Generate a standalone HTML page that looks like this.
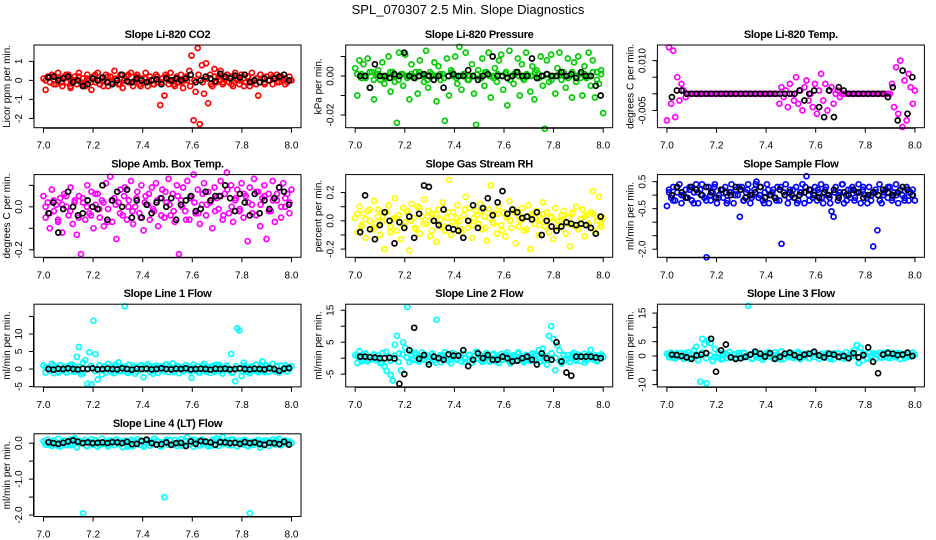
<!DOCTYPE html>
<html><head><meta charset="utf-8"><style>
html,body{margin:0;padding:0;background:#fff;}
svg{display:block;font-family:"Liberation Sans",sans-serif;}
</style></head><body>
<svg id="fig" width="936" height="540" viewBox="0 0 936 540">
<text x="468" y="14" text-anchor="middle" font-size="13">SPL_070307  2.5 Min. Slope Diagnostics</text>
</svg>
<script>
const xTicks=[7.0,7.2,7.4,7.6,7.8,8.0];
const xTickLabels=["7.0","7.2","7.4","7.6","7.8","8.0"];
const titles=["Slope Li-820 CO2","Slope Li-820 Pressure","Slope Li-820 Temp.","Slope Amb. Box Temp.","Slope Gas Stream RH","Slope Sample Flow","Slope Line 1 Flow","Slope Line 2 Flow","Slope Line 3 Flow","Slope Line 4 (LT) Flow"];
const yTitles=["Licor ppm per min.","kPa per min.","degrees C per min.","degrees C per min.","percent per min.","ml/min per min.","ml/min per min.","ml/min per min.","ml/min per min.","ml/min per min."];
const seriesColors=["#ff0000","#00cc00","#ff00ff","#ff00ff","#ffff00","#0000ff","#00ffff","#00ffff","#00ffff","#00ffff"];
const yRanges=[[-2.49,1.86],[-0.0265,0.0159],[-0.0102,0.0147],[-0.235,0.15],[-0.258,0.327],[-2.30,0.76],[-5.1,18.5],[-9.0,16.9],[-10.8,18.1],[-2.04,0.26]];
const yTickVals=[[-2,-1,0,1],[-0.02,-0.01,0,0.01],[-0.005,0,0.005,0.01],[-0.2,-0.1,0,0.1],[-0.2,-0.1,0,0.1,0.2],[-2,-1.5,-1,-0.5,0,0.5],[-5,0,5,10,15],[-5,0,5,10,15],[-10,-5,0,5,10,15],[-2,-1.5,-1,-0.5,0]];
const yTickLabels=[["-2","-1","0","1"],["-0.02","","0.00",""],["-0.005","","","0.010"],["-0.2","","0.0",""],["-0.2","","0.0","","0.2"],["-2.0","","","-0.5","","0.5"],["-5","0","5","10",""],["-5","","5","","15"],["-10","","0","5","","15"],["-2.0","","-1.0","","0.0"]];

const co2=[0.1,-0.5,0.2,-0.1,0.3,0.0,-0.2,0.4,0.1,-0.3,0.2,-0.1,0.3,-0.4,0.0,0.2,-0.2,0.4,-0.1,0.1,-0.3,0.3,0.0,-0.5,0.2,-0.1,0.4,-0.2,0.1,0.0,0.3,-0.3,0.2,-0.1,0.5,0.0,-0.2,0.3,-0.4,0.1,0.2,-0.1,0.4,-0.3,0.0,0.3,-0.2,0.1,-0.1,0.4,-0.3,0.2,0.0,-0.2,0.3,-0.1,-1.3,0.1,-0.8,0.2,-0.2,0.4,0.0,-0.3,0.2,-0.1,0.3,-0.4,0.1,0.0,0.5,1.3,-2.1,-0.6,1.7,-2.3,0.8,-0.7,0.9,-1.2,0.3,-0.3,0.6,-0.1,0.2,0.5,-0.2,0.1,0.3,-0.1,0.2,-0.3,0.4,0.0,-0.2,0.3,0.1,-0.1,0.2,-0.3,0.4,0.0,-0.2,-0.8,0.3,0.1,-0.1,0.2,0.0,0.3,-0.2,0.1,0.3,-0.1,0.2,0.0,0.1,-0.1,0.2,0.0];
const co2Band=[0.0,0.2,-0.2,0.1,-0.1,0.3,-0.3,0.0,0.2,-0.2,0.1,-0.1,0.3,0.0,-0.3,0.2,-0.1,0.1,-0.2,0.0,0.3,-0.1,0.2,-0.3,0.1,0.0,-0.2,0.2,-0.1,0.3,0.0,-0.2,0.1,-0.1,0.2,-0.3,0.0,0.3,-0.1,0.1,-0.2,0.2,0.0,-0.1,0.3,-0.2,0.1,0.0,-0.3,0.2,-0.1,0.1,0.3,-0.2,0.0,0.2,-0.1,0.1,-0.2,0.0];
const co2Ref=[0.15,0.2,0.0,0.1,0.2,-0.1,0.0,-0.3,-0.2,0.1,0.0,0.15,-0.1,-0.2,0.0,0.3,-0.05,-0.1,0.1,0.0,-0.1,0.0,0.05,-0.2,0.1,0.0,0.1,0.0,0.1,0.3,-0.1,0.0,0.2,0.1,-0.05,0.35,0.2,0.1,0.25,0.15,0.3,-0.1,0.0,-0.1,0.1,0.0,0.1,0.2,0.3,0.0];
const pressure=[0.004,-0.010,0.008,0.001,0.006,-0.001,0.009,-0.006,0.002,-0.012,0.001,0.003,-0.002,0.007,-0.004,0.000,0.010,-0.008,0.002,-0.003,-0.024,0.012,0.001,-0.005,0.011,-0.001,-0.012,0.006,0.000,0.002,-0.009,0.008,0.001,-0.003,0.013,-0.006,0.002,0.000,0.007,-0.013,0.005,-0.002,0.001,-0.023,0.009,-0.010,0.003,0.000,0.010,-0.004,0.015,-0.007,0.001,0.012,-0.002,0.000,0.006,-0.009,-0.025,0.003,-0.001,0.009,-0.005,0.002,0.012,-0.011,0.000,0.004,-0.003,0.008,0.011,-0.007,0.001,-0.015,0.013,0.000,-0.004,0.002,0.009,-0.010,0.006,-0.002,0.012,0.000,-0.008,0.005,-0.012,0.003,0.001,0.010,-0.005,-0.027,0.008,-0.003,0.011,0.000,-0.009,0.004,0.012,-0.002,0.002,-0.006,0.009,0.000,-0.011,0.007,-0.003,0.010,0.001,-0.010,0.005,-0.001,0.012,-0.005,0.008,-0.011,0.002,-0.004,0.003,-0.019];
const pressureBand=[0.001,-0.001,0.000,0.002,-0.002,0.001,0.000,-0.001,0.002,0.000,-0.002,0.001,0.000,0.001,-0.001,0.002,0.000,-0.002,0.001,0.000,0.001,-0.001,0.000,0.002,-0.001,0.000,0.001,-0.002,0.000,0.001,-0.001,0.002,0.000,-0.001,0.001,0.000,0.002,-0.002,0.001,0.000,-0.001,0.001,0.000,0.002,-0.001,0.000,0.001,-0.002,0.000,0.001,0.000,-0.001,0.002,0.000,-0.001,0.001,0.000,0.002,-0.002,0.001];
const pressureRef=[0.000,0.000,-0.006,0.006,0.000,0.000,-0.001,0.001,0.000,0.012,0.000,-0.001,0.000,0.001,0.000,-0.002,0.000,-0.006,0.000,0.001,0.000,0.000,0.003,0.000,-0.002,0.000,0.001,0.010,0.000,0.000,-0.001,0.000,0.002,0.000,0.000,0.009,-0.001,0.000,0.001,0.000,0.000,0.002,0.000,0.001,-0.001,0.002,0.000,0.000,-0.005,-0.010];
const liTemp=[-0.008,0.014,-0.003,0.013,-0.007,0.005,-0.002,0.003,0.001,-0.001,0,0,0,0,0,0,0,0,0,0,0,0,0,0,0,0,0,0,0,0,0,0,0,0,0,0,0,0,0,0,0,0,0,0,0,0,0,0,0,0,0,0,0,0,-0.003,0.002,-0.001,0.001,-0.004,0.003,0.000,-0.002,0.005,-0.003,0.001,-0.005,0.002,0.004,-0.002,0.000,-0.004,0.003,-0.006,0.001,0.006,-0.002,0.003,-0.005,0.001,0.002,-0.003,0.000,0.001,-0.001,0,0,0,0,0,0,0,0,0,0,0,0,0,0,0,0,0,0,0,0,0,0,0,0,0.003,-0.004,0.008,-0.006,0.010,-0.010,0.004,-0.008,0.006,0.002,-0.003,0.001];
const liTempRef=[-0.001,0.001,0.001,0,0,0,0,0,0,0,0,0,0,0,0,0,0,0,0,0,0,0,0,0,0,0,0.001,-0.002,0,0.001,-0.004,-0.007,0.001,-0.007,0.002,0.001,0,0,0,0,0,0,0,0,-0.001,0.002,-0.008,0.007,-0.006,0.005];
const ambTemp=[0.05,-0.05,0.02,-0.10,0.08,-0.02,0.01,-0.07,0.04,-0.12,0.06,0.00,-0.04,0.09,-0.08,0.03,-0.13,0.05,-0.22,0.02,-0.06,0.10,-0.03,0.07,-0.10,0.01,0.06,-0.05,0.03,-0.09,0.11,-0.01,0.14,-0.07,0.04,-0.15,0.02,0.08,-0.04,0.09,-0.06,0.03,0.12,-0.08,0.00,0.07,-0.03,0.10,-0.11,0.05,0.01,-0.06,0.09,-0.02,0.11,-0.09,0.04,0.08,-0.05,0.02,0.13,-0.04,0.06,-0.07,0.10,-0.22,0.03,0.09,-0.02,0.12,-0.06,0.05,0.15,-0.03,0.08,-0.08,0.01,0.11,-0.04,0.07,0.02,-0.10,0.09,0.04,-0.01,0.12,-0.06,0.06,0.16,-0.03,0.10,-0.07,0.03,0.08,-0.02,0.11,-0.05,0.05,-0.16,0.09,0.01,0.13,-0.04,0.07,-0.09,0.04,0.10,-0.15,0.06,-0.02,0.12,-0.07,0.03,0.09,-0.05,0.11,0.00,0.06,-0.03,0.08];
const ambTempBand=[0.00,-0.03,0.03,-0.06,0.01,0.05,-0.02,0.02,-0.05,0.04,0.00,-0.04,0.06,-0.01,0.02,-0.07,0.03,0.01,-0.03,0.05,0.00,-0.02,0.04,-0.05,0.02,0.06,-0.01,0.03,-0.04,0.07,0.01,-0.02,0.05,0.00,-0.06,0.04,0.02,-0.03,0.06,0.01,0.03,-0.02,0.05,-0.04,0.08,0.00,0.04,-0.01,0.06,0.02,-0.03,0.07,0.01,0.05,-0.02,0.03,0.06,0.00,0.04,0.02];
const ambTempRef=[-0.03,0.02,-0.12,-0.01,0.07,0.00,-0.04,-0.03,0.03,0.00,-0.01,0.10,-0.06,0.03,0.07,0.00,0.08,-0.05,0.03,-0.05,0.01,-0.03,0.02,0.04,0.00,0.04,-0.06,0.01,0.03,0.05,-0.02,-0.01,0.07,0.03,0.05,0.05,0.10,0.04,-0.02,0.06,0.02,-0.04,0.06,-0.03,0.03,-0.01,0.04,0.09,0.07,0.01];
const rh=[0.02,-0.08,0.10,-0.03,0.05,-0.12,0.07,0.00,-0.05,0.14,-0.02,0.08,-0.10,0.03,-0.20,0.06,0.11,-0.04,0.01,0.16,-0.07,0.04,-0.13,0.09,-0.01,0.06,-0.21,0.12,0.02,-0.06,0.10,-0.09,0.03,0.15,-0.02,0.07,-0.11,0.05,0.00,-0.15,0.08,-0.04,0.13,-0.07,0.02,0.29,-0.10,0.06,-0.03,0.11,0.00,-0.08,0.04,0.17,-0.05,0.09,-0.12,0.02,0.07,-0.02,0.12,-0.06,0.03,-0.14,0.08,0.25,-0.01,0.05,-0.09,0.10,-0.03,0.06,-0.11,0.02,0.14,-0.05,0.08,-0.16,0.04,0.00,0.09,-0.07,0.03,0.11,-0.20,0.05,-0.02,0.07,-0.10,0.01,0.13,-0.04,0.06,-0.08,0.02,-0.13,0.09,0.00,-0.05,0.04,0.07,-0.09,0.02,-0.18,0.05,-0.03,0.10,-0.06,0.01,0.08,-0.11,0.04,-0.02,0.06,0.21,-0.07,0.03,0.17,-0.04,0.02];
const rhBand=[0.05,-0.04,0.01,0.08,-0.06,0.03,-0.01,0.06,-0.08,0.02,0.04,-0.03,0.07,0.00,-0.05,0.09,-0.02,0.03,-0.07,0.05,0.01,-0.04,0.06,-0.01,0.02,-0.06,0.08,0.00,-0.03,0.04,0.07,-0.05,0.02,-0.02,0.05,-0.07,0.03,0.00,0.06,-0.04,0.01,-0.06,0.04,0.02,-0.03,0.05,-0.01,0.03,-0.05,0.00,0.04,-0.02,0.06,-0.04,0.01,0.03,-0.03,0.05,0.00,-0.02];
const rhRef=[-0.08,0.18,-0.06,-0.13,-0.03,0.06,0.00,-0.16,-0.01,-0.05,0.03,-0.12,0.05,0.25,0.24,0.00,-0.03,0.08,-0.05,-0.06,-0.07,-0.12,0.00,0.11,-0.05,0.09,0.16,0.04,0.13,0.21,0.05,0.08,0.06,0.02,0.03,0.01,0.06,-0.10,0.00,-0.04,-0.07,-0.04,-0.01,-0.02,-0.03,-0.02,-0.03,-0.05,-0.09,0.03];
const sampleFlow=[-0.4,0.2,-0.1,0.3,-0.2,0.1,0.4,-0.3,0.0,0.2,-0.1,0.3,-0.2,0.1,0.4,-0.3,0.2,0.0,-0.1,-2.3,0.3,-0.2,0.1,0.4,-0.3,0.0,0.2,-0.1,0.3,-0.2,0.1,0.4,-0.3,0.2,0.0,-0.8,0.3,-0.2,0.1,0.4,-0.3,0.0,0.2,0.5,-0.1,0.3,-0.2,0.1,0.4,-0.3,0.0,0.2,-0.1,0.3,-0.2,-1.8,0.1,0.4,-0.3,0.2,0.0,-0.1,0.3,-0.2,0.1,0.4,-0.3,0.7,0.0,0.2,-0.1,0.3,-0.2,0.1,0.4,-0.3,0.2,0.0,-0.1,-0.6,-0.8,0.3,-0.2,0.1,0.4,-0.3,0.0,0.2,-0.1,0.3,-0.2,0.1,0.4,-0.3,0.2,0.0,-0.1,0.3,-0.2,-1.9,0.1,-1.3,0.4,-0.3,0.0,0.2,-0.1,0.3,-0.2,0.1,0.4,-0.3,0.2,0.0,-0.1,0.3,-0.2,0.1,0.2,-0.2];
const sampleFlowBand=[0.1,-0.2,0.3,0.0,-0.1,0.2,-0.3,0.1,0.4,-0.2,0.0,0.3,-0.1,0.2,-0.3,0.1,0.0,0.3,-0.2,0.2,-0.1,0.4,0.0,-0.3,0.2,0.1,-0.2,0.3,0.0,-0.1,0.2,-0.3,0.1,0.3,-0.2,0.0,0.2,-0.1,0.3,-0.3,0.1,0.0,0.4,-0.2,0.2,-0.1,0.1,0.3,-0.3,0.0,0.2,-0.2,0.1,0.3,-0.1,0.0,0.2,-0.2,0.1,0.0];
const sampleFlowRef=[0.0,0.3,0.1,-0.1,0.3,0.2,0.0,0.3,0.1,-0.1,0.2,0.1,0.0,0.3,0.2,-0.1,0.0,0.1,0.3,-0.1,0.0,-0.1,0.2,0.0,0.1,-0.1,0.0,0.1,0.2,0.0,-0.1,0.1,0.0,0.2,-0.1,0.1,0.0,0.2,0.1,-0.1,0.0,0.1,0.0,0.2,0.1,0.0,0.1,0.3,0.2,0.0];
const line1=[1.0,-1.0,0.5,-0.5,1.5,-1.2,0.3,-0.8,1.1,-0.4,0.6,-1.0,0.9,-0.6,1.2,-0.3,3.5,6.3,-1.5,1.8,2.5,-4.2,4.8,-4.4,13.8,4.2,-3.0,1.0,-1.6,0.7,-0.9,1.5,-0.5,0.8,-1.2,0.4,1.9,-0.7,0.5,17.9,-1.0,1.2,-0.4,0.9,-1.3,0.6,-0.2,1.1,-2.3,0.3,1.4,-0.8,0.7,-0.5,1.0,-1.1,0.2,0.8,-0.6,1.3,-0.9,0.5,1.6,-0.3,0.9,-1.2,0.4,-0.7,1.1,-0.2,0.6,-2.5,1.2,-0.5,0.8,-1.0,0.3,1.5,-0.8,0.5,-1.1,0.9,-0.3,1.2,-0.6,0.7,-1.3,0.2,1.0,-0.4,4.3,-1.0,-3.5,11.6,11.0,-2.0,1.8,-0.7,0.5,-1.2,0.8,-0.4,1.3,-0.9,0.6,2.2,-0.5,1.0,-0.8,0.3,1.5,-0.6,0.7,-1.0,0.9,-0.3,1.1,-0.7,0.4,0.8];
const line1Band=[0.5,-0.5,1.0,-1.0,0.2,-0.2,1.2,-0.8,0.6,-1.2,0.0,0.9,-0.6,1.1,-0.3,0.4,-0.9,1.3,-0.4,0.7,-1.1,0.3,-0.7,1.0,-0.1,0.8,-1.3,0.5,-0.5,1.2,0.1,-0.9,0.7,-0.3,1.1,-0.6,0.4,-1.0,0.9,-0.2,0.6,-0.8,1.2,-0.4,0.2,-1.1,0.8,-0.1,1.0,-0.7,0.3,-0.5,1.1,-0.9,0.5,-0.2,0.9,-0.6,0.4,0.0];
const line1Ref=[0.0,-0.2,0.1,0.0,0.2,0.0,-0.1,0.1,0.0,0.2,-0.1,0.0,0.1,0.0,-0.1,0.2,0.0,-0.2,0.1,0.0,0.1,-0.1,0.0,0.2,0.0,-0.1,0.1,0.0,0.2,-0.1,0.0,0.1,0.0,-0.2,0.1,0.0,0.1,-0.1,0.0,0.2,0.0,-0.1,0.1,0.0,-0.1,0.2,0.0,-0.5,0.1,0.3];
const line2=[1.0,-1.5,2.2,0.0,-0.8,1.3,-1.0,0.5,-0.3,1.2,-0.6,0.8,-1.5,1.6,-2.5,-4.0,0.3,-5.2,-7.0,4.2,7.0,1.5,-3.8,5.0,3.2,16.0,-1.2,2.0,-0.5,1.1,-0.9,0.6,1.8,-0.4,1.0,-1.1,0.4,1.5,-0.7,12.0,0.3,-1.3,0.9,1.9,-0.2,0.7,-1.6,0.4,1.2,-0.5,0.8,-1.0,1.4,0.1,-0.8,1.1,-1.4,0.6,2.0,-0.3,0.9,-1.2,0.4,1.6,-0.6,0.2,1.0,-0.9,0.5,-1.5,1.3,-0.4,0.7,1.8,-1.1,0.3,0.9,-0.7,1.4,-0.2,0.6,-1.3,1.1,0.0,-0.8,1.5,-0.5,0.8,2.5,-1.0,3.0,0.8,-2.0,7.0,10.0,6.0,-3.8,4.0,2.4,-1.6,1.0,-0.5,0.9,-1.2,0.6,1.7,-0.3,1.1,-0.9,0.4,1.4,-0.7,0.8,2.6,-0.4,0.9,-1.0,0.6,1.2,0.3];
const line2Band=[0.5,-1.0,1.5,-0.5,1.0,0.0,-1.5,2.0,-0.8,0.8,-1.2,1.2,0.2,-0.3,1.7,-1.0,0.6,-0.6,1.3,-1.4,0.9,0.1,-0.9,1.6,-0.2,0.4,-1.3,1.0,-0.4,2.0,-0.7,0.7,-1.1,1.4,0.0,-0.5,1.1,-1.6,0.3,1.8,-0.9,0.5,-0.2,1.2,-1.2,0.8,-0.6,1.5,0.1,-1.0,0.9,-0.3,1.3,-0.8,0.6,-1.4,1.0,0.2,-0.5,0.7];
const line2Ref=[0.5,0.5,0.3,0.2,0.0,0.0,0.1,-0.1,-8.0,-5.0,2.5,9.5,-0.2,1.0,-2.0,0.5,0.0,-0.5,1.2,0.8,0.8,2.5,-2.5,-0.5,1.5,0.0,1.0,-0.5,-0.5,0.5,0.0,-1.0,-0.8,0.0,0.5,-0.5,-2.0,1.5,0.0,-0.5,5.0,-1.0,-4.5,-5.5,0.5,0.5,0.5,0.5,0.2,0.0];
const line3=[0.8,-0.5,1.2,0.0,-0.8,0.6,-0.3,1.0,-1.0,0.4,1.3,-0.6,0.7,2.0,3.2,-1.5,-9.0,6.0,4.0,-9.5,5.5,4.5,-1.8,2.5,-0.5,1.1,-1.2,0.3,0.9,-0.7,1.4,-0.4,0.6,-1.1,1.0,0.2,-0.8,1.2,-0.3,17.5,0.5,-1.0,1.5,0.1,-0.6,0.9,-1.3,0.4,1.1,-0.2,0.7,-0.9,1.3,0.0,-0.5,1.6,-1.1,0.3,0.8,-0.4,1.0,-0.7,0.2,1.4,-1.2,0.5,-0.1,0.9,-0.8,0.6,1.2,-0.3,0.4,-1.0,0.8,0.1,-0.6,1.1,-0.4,0.7,-1.2,0.3,1.0,-0.5,0.6,-0.9,1.3,0.0,-0.3,0.8,2.0,3.8,-2.5,2.8,-1.5,0.5,-0.7,1.2,-0.2,0.9,-1.0,0.4,1.1,-0.6,0.7,-0.3,1.4,-0.8,0.2,0.9,-0.5,1.0,-1.1,0.6,0.3,-0.4,0.8,-0.2,1.2,0.5];
const line3Band=[0.3,-0.6,1.0,-0.2,0.7,-1.0,0.5,0.0,1.2,-0.8,0.2,-0.4,0.9,-1.1,0.6,0.1,-0.7,1.1,-0.3,0.4,-0.9,0.8,0.0,-0.5,1.3,-0.1,0.5,-1.2,0.7,0.2,-0.6,1.0,-0.4,0.3,-0.8,1.2,0.1,-0.2,0.6,-1.0,0.9,-0.3,0.4,-0.7,1.1,0.0,-0.5,0.8,-0.9,0.2,0.7,-0.4,1.0,-0.6,0.3,-0.1,0.9,-0.8,0.5,0.1];
const line3Ref=[0.5,0.3,0.0,-0.5,-1.0,0.2,0.5,1.0,6.0,-5.5,2.0,4.0,-0.5,-1.0,-0.8,-0.3,0.5,1.5,0.8,-0.2,1.0,-1.0,-0.3,0.8,1.2,0.3,-0.5,0.5,0.8,1.5,0.2,-0.5,0.8,0.5,-0.3,0.0,-0.8,1.0,-0.5,0.3,3.0,-2.0,-6.0,0.5,1.0,0.8,0.3,0.5,1.2,0.0];
const line4=[0.05,-0.05,0.10,0.00,-0.08,0.06,-0.03,0.12,-0.10,0.04,0.08,-0.06,0.02,0.10,-0.04,0.14,-0.12,0.06,0.00,-1.95,0.09,-0.07,0.03,0.11,-0.05,0.07,-0.10,0.01,0.12,-0.03,0.05,-0.09,0.08,0.00,-0.06,0.10,-0.02,0.04,-0.11,0.07,0.02,-0.05,0.09,-0.08,0.03,0.11,-0.04,0.06,-0.10,0.01,0.08,-0.07,0.04,0.12,-0.03,0.05,-0.09,0.02,-1.50,0.10,-0.05,0.07,-0.02,0.09,-0.08,0.03,0.11,-0.06,0.04,0.16,-0.04,0.08,-0.10,0.01,0.06,-0.07,0.10,-0.03,0.05,-0.09,0.02,0.09,-0.05,0.13,-0.08,0.04,0.18,-0.02,0.07,-0.06,0.10,0.10,0.03,-0.09,0.06,0.01,-0.04,0.08,-0.07,-1.95,0.00,-0.05,0.05,0.09,-0.12,0.04,-0.02,0.07,-0.08,0.03,0.10,-0.04,0.06,0.12,-0.06,0.02,0.08,-0.03,0.05,0.00];
const line4Band=[0.02,-0.04,0.07,-0.08,0.04,0.00,-0.06,0.09,-0.02,0.05,-0.09,0.03,0.08,-0.05,0.01,-0.07,0.06,0.10,-0.03,0.02,-0.10,0.05,0.00,0.08,-0.06,0.03,-0.01,0.07,-0.09,0.04,0.09,-0.04,0.01,-0.07,0.06,-0.02,0.10,-0.05,0.03,0.00,-0.08,0.07,0.02,-0.03,0.08,-0.06,0.04,-0.01,0.09,-0.09,0.05,0.01,-0.04,0.07,-0.07,0.03,0.06,-0.02,0.04,0.00];
const line4Ref=[0.03,0.00,-0.02,0.01,0.05,0.08,0.04,0.00,0.02,0.00,0.01,0.02,0.00,0.03,0.02,0.00,0.04,-0.03,-0.02,0.06,0.10,0.00,-0.04,-0.03,0.02,-0.05,0.00,0.01,-0.08,0.05,-0.02,0.06,0.04,0.02,-0.05,0.03,0.02,0.00,0.01,-0.02,0.03,0.00,0.02,-0.02,-0.05,0.01,0.00,-0.03,0.04,-0.04];

const colorData=[[co2,co2Band],[pressure,pressureBand],[liTemp],[ambTemp,ambTempBand],[rh,rhBand],[sampleFlow,sampleFlowBand],[line1,line1Band],[line2,line2Band],[line3,line3Band],[line4,line4Band]];
const refData=[co2Ref,pressureRef,liTempRef,ambTempRef,rhRef,sampleFlowRef,line1Ref,line2Ref,line3Ref,line4Ref];

const NS="http://www.w3.org/2000/svg";
const svg=document.getElementById('fig');
function mk(tag,attrs,parent){const e=document.createElementNS(NS,tag);for(const k in attrs)e.setAttribute(k,attrs[k]);(parent||svg).appendChild(e);return e;}

const BOXW=267,BOXH=82.7,COL0=34,COLSTEP=311.7,ROW0=45,ROWSTEP=129.6,XPAD=9.5;
titles.forEach((t,p)=>{
  const col=p%3,row=Math.floor(p/3);
  const L=COL0+col*COLSTEP,T=ROW0+row*ROWSTEP,R=L+BOXW,B=T+BOXH;
  const xS=v=>L+XPAD+(v-7)*(BOXW-2*XPAD);
  const [y0,y1]=yRanges[p];
  const yS=v=>B-(v-y0)/(y1-y0)*BOXH;
  const g=mk('g',{});
  
  
  const tt=mk('text',{x:(L+R)/2,y:T-7,'text-anchor':'middle','font-size':'11','font-weight':'bold','letter-spacing':'-0.3'},g);
  tt.textContent=t;
  
  
  const pts=mk('g',{fill:'none','stroke-width':'1.7'},g);
  
  
  colorData[p].forEach((arr,k)=>{
    arr.forEach((v,i)=>{
      const x=7+(i+(k?0.5:0))/(arr.length-(k?0:1));
      const c=mk('circle',{cx:xS(x).toFixed(1),cy:yS(v).toFixed(1),r:2.5,stroke:seriesColors[p]},pts);
      
      
    });
  });
  const ref=refData[p];
  ref.forEach((v,i)=>{
    const x=7.02+0.97*i/(ref.length-1);
    const c=mk('circle',{cx:xS(x).toFixed(1),cy:yS(v).toFixed(1),r:2.5,stroke:'#000'},pts);
    
    
  });
  const box=mk('rect',{x:L,y:T,width:BOXW,height:BOXH,fill:'none',stroke:'#000','stroke-width':1},g);
  
  
  const xa=mk('g',{},g);
  
  
  mk('line',{x1:xS(7),x2:xS(8),y1:B+0.5,y2:B+0.5,stroke:'#000'},xa);
  xTicks.forEach((v,i)=>{
    mk('line',{x1:xS(v),x2:xS(v),y1:B,y2:B+5,stroke:'#000'},xa);
    const tx=mk('text',{x:xS(v),y:B+21,'text-anchor':'middle','font-size':'10'},xa);
    tx.textContent=xTickLabels[i];
    
    
  });
  const ya=mk('g',{},g);
  
  
  const yt=yTickVals[p];
  mk('line',{x1:L-0.5,x2:L-0.5,y1:yS(yt[0]),y2:yS(yt[yt.length-1]),stroke:'#000'},ya);
  yt.forEach((v,i)=>{
    const yy=yS(v);
    mk('line',{x1:L-5,x2:L,y1:yy,y2:yy,stroke:'#000'},ya);
    const lab=yTickLabels[p][i];
    if(lab){
      const tx=mk('text',{x:L-12,y:yy,'text-anchor':'middle','font-size':'10',transform:`rotate(-90 ${L-12} ${yy})`},ya);
      tx.textContent=lab;
      
      
    }
  });
  const cy=(T+B)/2;
  const ytl=mk('text',{x:L-24,y:cy,'text-anchor':'middle','font-size':'10',transform:`rotate(-90 ${L-24} ${cy})`},g);
  ytl.textContent=yTitles[p];
  
  
});
</script>
</body></html>
